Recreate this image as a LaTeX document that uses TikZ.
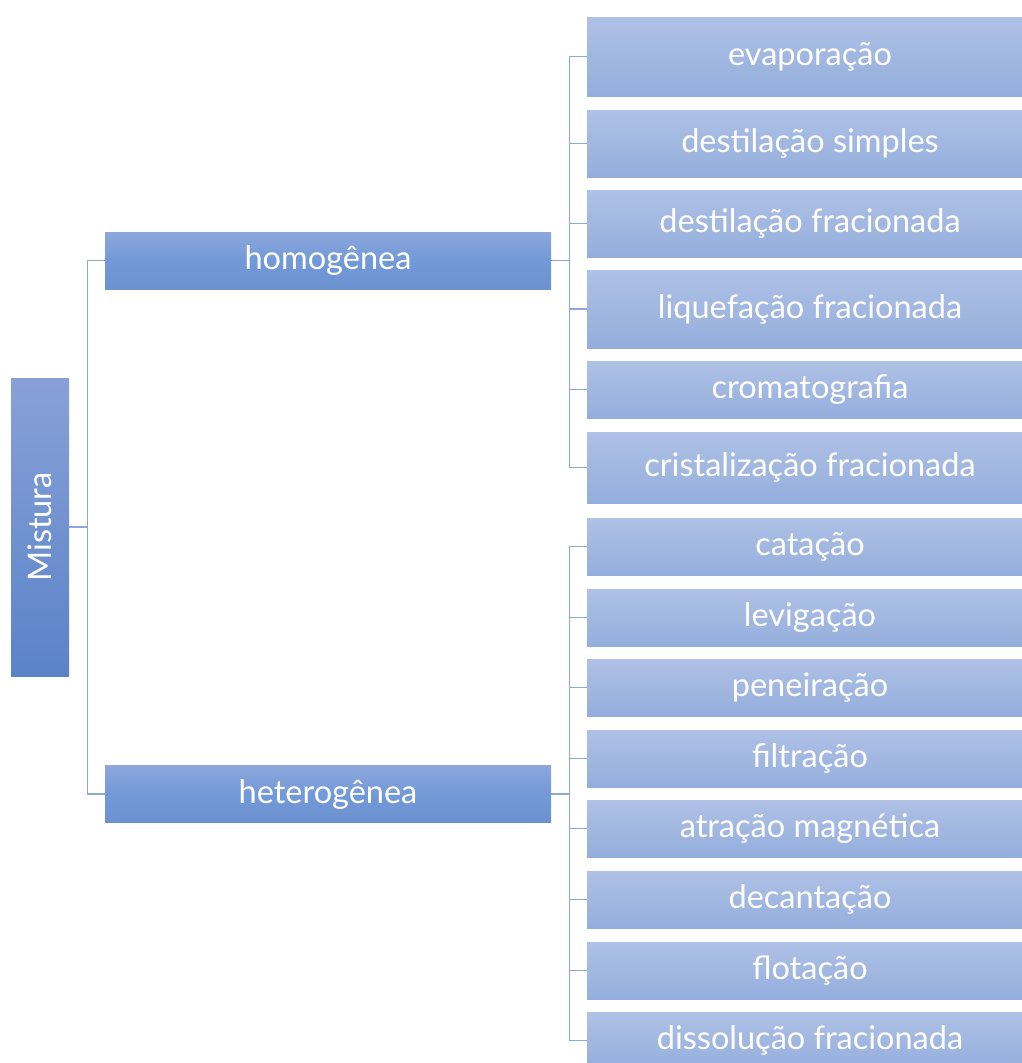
\documentclass[tikz,border=0pt]{standalone}
\usepackage{fontspec}
\setmainfont{Lato}
\definecolor{leaftop}{HTML}{AFC1E6}
\definecolor{leafbot}{HTML}{94AEDC}
\definecolor{midtop}{HTML}{8DA7DC}
\definecolor{midmid}{HTML}{7299D8}
\definecolor{midbot}{HTML}{6D92D0}
\definecolor{roottop}{HTML}{88A1D8}
\definecolor{rootbot}{HTML}{5B83C8}
\definecolor{linecol}{HTML}{8FA6DA}
\begin{document}
\begin{tikzpicture}[x=1pt,y=-1pt,
  box/.style={rectangle, inner sep=0pt, text=white, font=\fontsize{32.5}{36}\selectfont},
  leaf/.style={box, minimum width=446pt, top color=leaftop, bottom color=leafbot},
  mid/.style={box, minimum width=446pt, minimum height=57pt, top color=midtop, bottom color=midbot, middle color=midmid},
  root/.style={box, minimum width=58pt, minimum height=298pt, top color=roottop, bottom color=rootbot},
  conn/.style={draw=linecol, line width=1.1pt}]
\useasboundingbox (0,0) rectangle (1022,1063);
\clip (0,0) rectangle (1022,1063);
\node[root] (mis) at (40,527) {};
\node[rotate=90, text=white, font=\fontsize{32.5}{36}\selectfont] (mistxt) at (mis.center) {Mistura};
\node[mid] (hom) at (328,260.5) {homogênea};
\node[mid] (het) at (328,794) {heterogênea};
\node[leaf, minimum height=79pt] (l1) at (810,56.5) {evaporação};
\node[leaf, minimum height=67pt] (l2) at (810,143.5) {destilação simples};
\node[leaf, minimum height=67pt] (l3) at (810,223.5) {destilação fracionada};
\node[leaf, minimum height=78pt] (l4) at (810,309) {liquefação fracionada};
\node[leaf, minimum height=57pt] (l5) at (810,389.5) {cromatografia};
\node[leaf, minimum height=71pt] (l6) at (810,467.5) {cristalização fracionada};
\node[leaf, minimum height=57pt] (r1) at (810,546.5) {catação};
\node[leaf, minimum height=57pt] (r2) at (810,617.5) {levigação};
\node[leaf, minimum height=57pt] (r3) at (810,687.5) {peneiração};
\node[leaf, minimum height=57pt] (r4) at (810,758.5) {filtração};
\node[leaf, minimum height=57pt] (r5) at (810,828.5) {atração magnética};
\node[leaf, minimum height=57pt] (r6) at (810,899.5) {decantação};
\node[leaf, minimum height=57pt] (r7) at (810,970.5) {flotação};
\node[leaf, minimum height=57pt] (r8) at (810,1040.5) {dissolução fracionada};
\foreach \c in {hom,het} \draw[conn] (mis.east) -- ++(18,0) |- (\c.west);
\foreach \c in {l1,l2,l3,l4,l5,l6} \draw[conn] (hom.east) -- ++(18,0) |- (\c.west);
\foreach \c in {r1,r2,r3,r4,r5,r6,r7,r8} \draw[conn] (het.east) -- ++(18,0) |- (\c.west);
\end{tikzpicture}
\end{document}
